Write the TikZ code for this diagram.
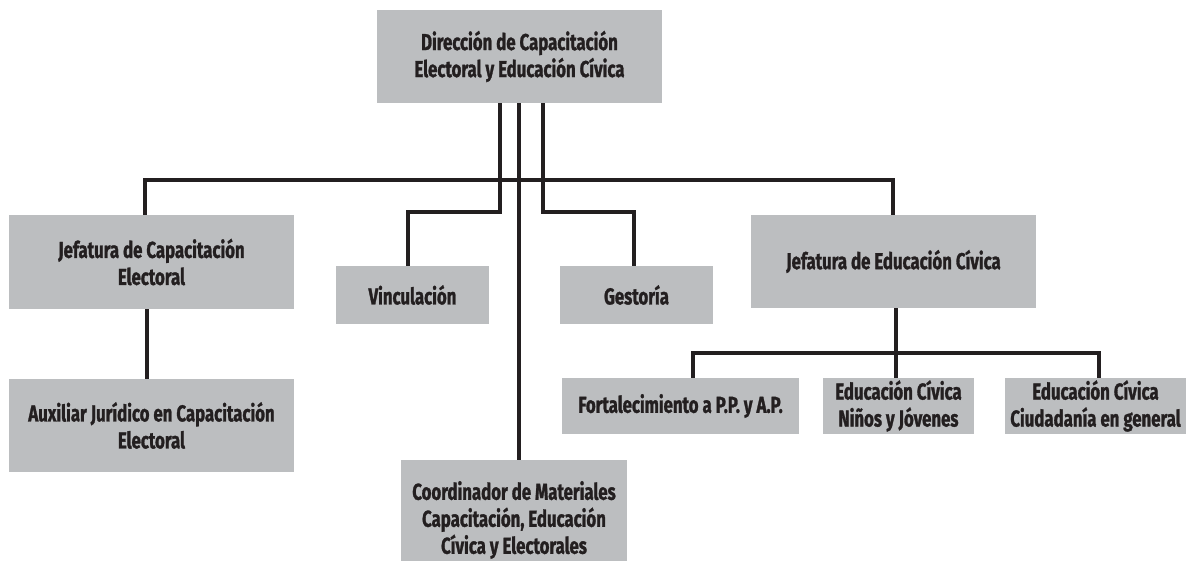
\documentclass[tikz,border=0pt]{standalone}
\usepackage{fontspec}
\setmainfont{Fira Sans}[FakeStretch=0.73,BoldFeatures={FakeBold=1.2}]
\definecolor{boxgray}{RGB}{188,190,192}
\definecolor{ink}{RGB}{35,31,32}
\begin{document}
\begin{tikzpicture}[x=1pt,y=-1pt,
  box/.style={fill=boxgray, inner sep=0pt, align=center, text=ink,
    font=\fontsize{23}{27}\selectfont\bfseries},
  conn/.style={draw=ink, line width=4pt, line join=miter}]
\useasboundingbox (0,0) rectangle (1186,560);
\clip (0,0) rectangle (1186,560);
% boxes
\node[box, minimum width=285, minimum height=93] (dir) at (519.5,56.5)
  {Dirección de Capacitación\\Electoral y Educación Cívica};
\node[box, minimum width=285, minimum height=94] (jcap) at (151.5,262)
  {Jefatura de Capacitación\\Electoral};
\node[box, minimum width=285, minimum height=93] (aux) at (151.5,425.5)
  {Auxiliar Jurídico en Capacitación\\Electoral};
\node[box, minimum width=153, minimum height=58] (vinc) at (412.5,295)
  {Vinculación};
\node[box, minimum width=153, minimum height=58] (gest) at (636.5,295)
  {Gestoría};
\node[box, minimum width=226, minimum height=120] (coord) at (514,520)
  {Coordinador de Materiales\\Capacitación, Educación\\Cívica y Electorales};
\node[box, minimum width=285, minimum height=93] (jedu) at (893.5,261.5)
  {Jefatura de Educación Cívica};
\node[box, minimum width=237, minimum height=56] (fort) at (680.5,406)
  {Fortalecimiento a P.P. y A.P.};
\node[box, minimum width=151, minimum height=56] (ninos) at (898.5,406)
  {Educación Cívica\\Niños y Jóvenes};
\node[box, minimum width=181, minimum height=56] (ciud) at (1095.5,406)
  {Educación Cívica\\Ciudadanía en general};
% connector points
\coordinate (busL) at (145,180);
\coordinate (busR) at (893,180);
\coordinate (vA) at (500,212);
\coordinate (vB) at (408,212);
\coordinate (gA) at (543,212);
\coordinate (gB) at (634,212);
\coordinate (cX) at (519,0);
\coordinate (auxX) at (147,0);
\coordinate (eJ) at (896,353);
\coordinate (eL) at (693,353);
\coordinate (eR) at (1099,353);
% connectors
\draw[conn] (jcap.north -| busL) -- (busL) -- (busR) -- (jedu.north -| busR);
\draw[conn] (dir.south -| vA) -- (vA) -- (vB) -- (vinc.north -| vB);
\draw[conn] (dir.south -| gA) -- (gA) -- (gB) -- (gest.north -| gB);
\draw[conn] (dir.south -| cX) -- (coord.north -| cX);
\draw[conn] (jcap.south -| auxX) -- (aux.north -| auxX);
\draw[conn] (jedu.south -| eJ) -- (eJ);
\draw[conn] (fort.north -| eL) -- (eL) -- (eR) -- (ciud.north -| eR);
\draw[conn] (eJ) -- (ninos.north -| eJ);
\end{tikzpicture}
\end{document}
